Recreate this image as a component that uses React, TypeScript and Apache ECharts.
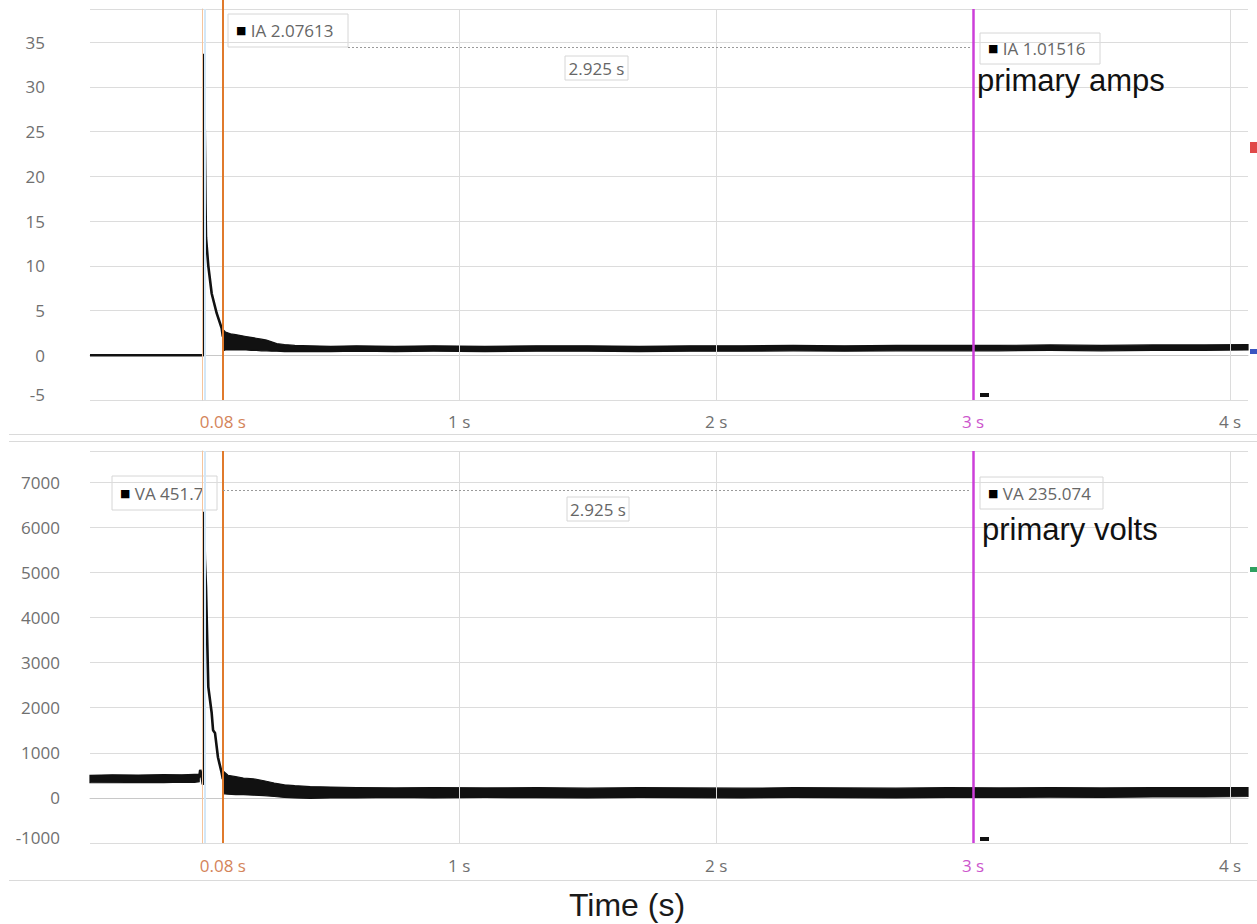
import React, { useEffect, useRef } from "react";
import * as echarts from "echarts";

// ---------- data ----------
const xStart = -0.437;
const xEnd = 4.07;
const xLabelValues = [0.08, 1, 2, 3, 4];
const gridTimes = [1, 2, 3, 4];
const cursorA = 0.08;
const cursorB = 3;
const cursorZero = 0;
const cursorSel = 0.012;

// primary amps (IA) – trace centre line through the inrush spike
const iaTimes = [-0.437, 0.0045, 0.0066, 0.0105, 0.0125, 0.0144, 0.0234, 0.0366, 0.056, 0.0756, 0.08];
const iaValues = [0, 0, 33.7, 22.6, 17, 13.2, 10.0, 6.9, 4.7, 3.0, 2.1];

// IA noisy envelope after the spike
const iaBandTimes = [0.08, 0.09, 0.11, 0.13, 0.15, 0.17, 0.19, 0.21, 0.23, 0.25, 0.27, 0.29, 0.32, 0.36, 0.42, 0.5, 0.6, 0.75, 0.9, 1.1, 1.3, 1.5, 1.7, 1.9, 2.1, 2.3, 2.5, 2.7, 2.9, 3.1, 3.3, 3.5, 3.7, 3.9, 4.07];
const iaBandHigh = [2.9, 2.6, 2.4, 2.3, 2.2, 2.1, 2.0, 1.9, 1.8, 1.7, 1.5, 1.3, 1.2, 1.1, 1.05, 1.0, 1.05, 1.0, 1.05, 1.0, 1.05, 1.05, 1.0, 1.05, 1.05, 1.1, 1.05, 1.1, 1.1, 1.1, 1.15, 1.1, 1.15, 1.15, 1.2];
const iaBandLow = [0.5, 0.6, 0.6, 0.6, 0.6, 0.6, 0.55, 0.55, 0.5, 0.5, 0.45, 0.45, 0.4, 0.4, 0.4, 0.4, 0.45, 0.4, 0.45, 0.4, 0.45, 0.45, 0.4, 0.45, 0.45, 0.5, 0.45, 0.5, 0.5, 0.5, 0.55, 0.5, 0.55, 0.55, 0.6];

// primary volts (VA) – centre line
const vaTimes = [-0.437, -0.3, -0.15, -0.05, -0.012, -0.008, -0.003, 0.002, 0.0045, 0.0066, 0.01, 0.0144, 0.0234, 0.0366, 0.042, 0.0495, 0.061, 0.0756, 0.08];
const vaValues = [430, 440, 445, 450, 460, 620, 500, 300, 320, 6340, 5300, 4680, 2460, 1880, 1500, 1440, 900, 550, 420];

// VA envelope before the spike
const vaPreTimes = [-0.437, -0.35, -0.25, -0.15, -0.08, -0.03, -0.012];
const vaPreHigh = [500, 510, 505, 515, 510, 520, 520];
const vaPreLow = [340, 335, 345, 340, 350, 345, 360];

// VA envelope after the spike
const vaPostTimes = [0.08, 0.1, 0.13, 0.16, 0.2, 0.24, 0.28, 0.32, 0.36, 0.42, 0.5, 0.6, 0.75, 0.9, 1.1, 1.3, 1.5, 1.7, 1.9, 2.1, 2.3, 2.5, 2.7, 2.9, 3.1, 3.3, 3.5, 3.7, 3.9, 4.07];
const vaPostHigh = [600, 500, 470, 440, 420, 380, 330, 290, 270, 250, 240, 230, 220, 230, 220, 225, 215, 225, 220, 215, 225, 220, 215, 225, 220, 230, 220, 225, 230, 230];
const vaPostLow = [90, 80, 70, 70, 60, 50, 30, 10, 0, -10, 0, 0, 10, 0, 10, 5, 0, 10, 5, 0, 10, 5, 0, 10, 10, 15, 10, 20, 20, 30];

// axes
const iaMin = -5;
const iaMax = 38.7;
const iaInterval = 5;
const vaMin = -1000;
const vaMax = 7687;
const vaInterval = 1000;

// cursor readouts
const iaReadA = "IA 2.07613";
const iaReadB = "IA 1.01516";
const vaReadA = "VA 451.7";
const vaReadB = "VA 235.074";
const deltaText = "2.925 s";

// ---------- styling ----------
const FONT = "Open Sans";
const FS = 17;
const GREY = "#707070";
const GRID = "#dcdcdc";
const ORANGE = "#e07a2c";
const MAGENTA = "#cc3fd9";

function pair(ts: number[], vs: number[]) {
  return ts.map((t, i) => [t, vs[i]]);
}

function bandSeries(ts: number[], lo: number[], hi: number[], axis: number) {
  return {
    type: "custom",
    xAxisIndex: axis,
    yAxisIndex: axis,
    silent: true,
    z: 3,
    data: [[ts[0], lo[0]]],
    renderItem: (_p: any, api: any) => {
      const pts: number[][] = [];
      for (let i = 0; i < ts.length; i++) pts.push(api.coord([ts[i], hi[i]]));
      for (let i = ts.length - 1; i >= 0; i--) pts.push(api.coord([ts[i], lo[i]]));
      return {
        type: "polygon",
        shape: { points: pts },
        style: { fill: "#111", stroke: "#111", lineWidth: 1.2 },
      };
    },
  };
}

function backgroundLines(axis: number) {
  return {
    type: "line",
    xAxisIndex: axis,
    yAxisIndex: axis,
    data: [],
    silent: true,
    z: 1,
    markLine: {
      silent: true,
      symbol: ["none", "none"],
      label: { show: false },
      emphasis: { disabled: true },
      data: [
        ...gridTimes.map((t) => ({ xAxis: t, lineStyle: { color: GRID, width: 1, type: "solid" } })),
        { xAxis: cursorZero, lineStyle: { color: "#f6c49c", width: 1, type: "solid" } },
        { xAxis: cursorSel, lineStyle: { color: "#d3e7f7", width: 2, type: "solid" } },
      ],
    },
  };
}

function traceSeries(ts: number[], vs: number[], axis: number) {
  return {
    type: "line",
    xAxisIndex: axis,
    yAxisIndex: axis,
    data: pair(ts, vs),
    showSymbol: false,
    symbol: "none",
    silent: true,
    z: 4,
    lineStyle: { color: "#111", width: 2.6, join: "bevel" },
    markLine: {
      silent: true,
      symbol: ["none", "none"],
      label: { show: false },
      emphasis: { disabled: true },
      data: [
        { xAxis: cursorA, lineStyle: { color: ORANGE, width: 2, type: "solid" } },
        { xAxis: cursorB, lineStyle: { color: MAGENTA, width: 2.5, type: "solid" } },
      ],
    },
  };
}

function xAxis(gridIndex: number, margin: number, name?: string) {
  return {
    type: "value",
    gridIndex,
    min: xStart,
    max: xEnd,
    axisLine: { show: true, lineStyle: { color: "#c8c8c8", width: 1 } },
    axisTick: { show: false },
    splitLine: { show: false },
    axisLabel: {
      customValues: xLabelValues,
      margin,
      fontFamily: FONT,
      fontSize: FS,
      color: GREY,
      formatter: (v: number) =>
        v === cursorA ? `{o|${v} s}` : v === cursorB ? `{m|${v} s}` : `${v} s`,
      rich: {
        o: { color: "#d4845a", fontFamily: FONT, fontSize: FS },
        m: { color: "#cc55cc", fontFamily: FONT, fontSize: FS },
      },
    },
    name,
    nameLocation: "middle",
    nameGap: 46,
    nameTextStyle: { fontFamily: "Liberation Sans", fontSize: 32, color: "#1a1a1a", padding: [0, 84, 0, 0] },
  };
}

function yAxis(gridIndex: number, min: number, max: number, interval: number, margin: number) {
  return {
    type: "value",
    gridIndex,
    min,
    max,
    interval,
    axisLine: { show: true, lineStyle: { color: "#c8c8c8", width: 1 } },
    axisTick: { show: false },
    splitLine: { show: true, lineStyle: { color: GRID, width: 1 } },
    axisLabel: {
      margin,
      fontFamily: FONT,
      fontSize: FS,
      color: GREY,
      formatter: (v: number) => {
        if (Math.abs(v / interval - Math.round(v / interval)) > 1e-6) return "";
        return v === min ? `{lo|${v}}` : String(v);
      },
      rich: {
        lo: { fontFamily: FONT, fontSize: FS, color: GREY, padding: [0, 0, 12, 0] },
      },
    },
  };
}

function readoutBox(x: number, y: number, w: number, h: number, label: string) {
  return {
    type: "group",
    x,
    y,
    z: 50,
    children: [
      {
        type: "rect",
        shape: { x: 0, y: 0, width: w, height: h },
        style: { fill: "rgba(255,255,255,0.95)", stroke: "#d6d6d6", lineWidth: 1 },
      },
      {
        type: "text",
        x: 8,
        y: h / 2,
        style: {
          text: `{s|■} ${label}`,
          fontFamily: FONT,
          fontSize: FS,
          fill: "#666",
          verticalAlign: "middle",
          rich: { s: { fontFamily: "DejaVu Sans", fontSize: 11, fill: "#000" } },
        },
      },
    ],
  };
}

function deltaBox(x: number, y: number, w: number, h: number) {
  return {
    type: "group",
    x,
    y,
    z: 50,
    children: [
      {
        type: "rect",
        shape: { x: 0, y: 0, width: w, height: h },
        style: { fill: "rgba(255,255,255,0.95)", stroke: "#d6d6d6", lineWidth: 1 },
      },
      {
        type: "text",
        x: w / 2,
        y: h / 2,
        style: {
          text: deltaText,
          fontFamily: FONT,
          fontSize: FS,
          fill: "#666",
          align: "center",
          verticalAlign: "middle",
        },
      },
    ],
  };
}

export default function App() {
  const ref = useRef<HTMLDivElement>(null);

  useEffect(() => {
    if (!ref.current) return;
    const chart = echarts.init(ref.current, undefined, { renderer: "svg" });

    const option: any = {
      animation: false,
      backgroundColor: "#ffffff",
      grid: [
        { left: 90, top: 9, width: 1158, height: 391 },
        { left: 90, top: 451, width: 1158, height: 392 },
      ],
      xAxis: [xAxis(0, 13), xAxis(1, 14, "Time (s)")],
      yAxis: [yAxis(0, iaMin, iaMax, iaInterval, 45), yAxis(1, vaMin, vaMax, vaInterval, 30)],
      series: [
        backgroundLines(0),
        backgroundLines(1),
        bandSeries(iaBandTimes, iaBandLow, iaBandHigh, 0),
        bandSeries(vaPreTimes, vaPreLow, vaPreHigh, 1),
        bandSeries(vaPostTimes, vaPostLow, vaPostHigh, 1),
        traceSeries(iaTimes, iaValues, 0),
        traceSeries(vaTimes, vaValues, 1),
      ],
      graphic: [
        // cursor A extends above top panel
        { type: "line", z: 45, shape: { x1: 223, y1: 0, x2: 223, y2: 9 }, style: { stroke: ORANGE, lineWidth: 2 } },
        // panel separators
        { type: "line", shape: { x1: 9, y1: 434.5, x2: 1257, y2: 434.5 }, style: { stroke: "#dadada", lineWidth: 1 } },
        { type: "line", shape: { x1: 9, y1: 441.5, x2: 1257, y2: 441.5 }, style: { stroke: "#dadada", lineWidth: 1 } },
        { type: "line", shape: { x1: 9, y1: 880.5, x2: 1257, y2: 880.5 }, style: { stroke: "#dadada", lineWidth: 1 } },
        // delta dotted lines
        { type: "line", z: 40, shape: { x1: 348, y1: 47.5, x2: 971, y2: 47.5 }, style: { stroke: "#9a9a9a", lineWidth: 1, lineDash: [2, 2] } },
        { type: "line", z: 40, shape: { x1: 223, y1: 490.5, x2: 971, y2: 490.5 }, style: { stroke: "#9a9a9a", lineWidth: 1, lineDash: [2, 2] } },
        // readouts
        readoutBox(228, 14, 120, 33, iaReadA),
        readoutBox(980, 33, 120, 31, iaReadB),
        deltaBox(565, 56, 63, 24),
        readoutBox(112, 476, 105, 34, vaReadA),
        readoutBox(980, 477, 123, 32, vaReadB),
        deltaBox(567, 497, 62, 24),
        // channel names
        { type: "text", x: 977, y: 80, z: 60, style: { text: "primary amps", fontFamily: "Liberation Sans", fontSize: 31, fill: "#111", verticalAlign: "middle" } },
        { type: "text", x: 982, y: 529, z: 60, style: { text: "primary volts", fontFamily: "Liberation Sans", fontSize: 31, fill: "#111", verticalAlign: "middle" } },
        // small markers near cursor B
        { type: "rect", z: 45, shape: { x: 980, y: 393, width: 9, height: 4 }, style: { fill: "#111" } },
        { type: "rect", z: 45, shape: { x: 980, y: 837, width: 9, height: 4 }, style: { fill: "#111" } },
        // channel offset markers at right edge
        { type: "rect", shape: { x: 1250, y: 142, width: 7, height: 11 }, style: { fill: "#e04848" } },
        { type: "rect", shape: { x: 1250, y: 349, width: 7, height: 5 }, style: { fill: "#3a55c0" } },
        { type: "rect", shape: { x: 1250, y: 567, width: 7, height: 5 }, style: { fill: "#2fa060" } },
      ],
    };

    chart.setOption(option);
    return () => chart.dispose();
  }, []);

  return (
    <div
      ref={ref}
      style={{ position: "absolute", left: 0, top: 0, width: 1257, height: 924, background: "#fff" }}
    />
  );
}
